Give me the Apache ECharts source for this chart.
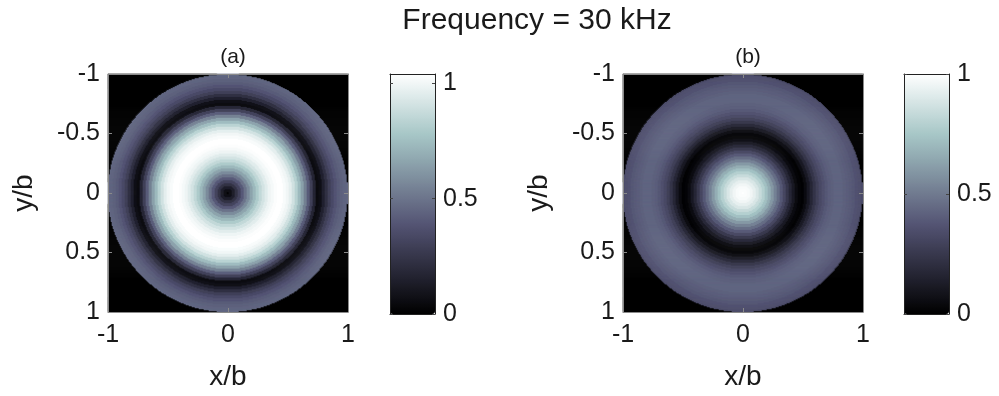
<!DOCTYPE html>
<html>
<head>
<meta charset="utf-8">
<script src="https://cdn.jsdelivr.net/npm/echarts@6/dist/echarts.min.js"></script>
<style>
html,body{margin:0;padding:0;background:#fff;}
#chart{width:999px;height:396px;}
</style>
</head>
<body>
<div id="chart"></div>
<script>
// ---- data ----
const mainTitle = 'Frequency = 30 kHz';
const panelTitles = ['(a)', '(b)'];
const xTickValues = [-1, 0, 1];
const yTickValues = [-1, -0.5, 0, 0.5, 1];
const colorbarTicks = [0, 0.5, 1];
const colorbarMax = [1.04, 1.0];
// radial samples r = 0, 0.025, ..., 1 (r/b)
const radiusStep = 0.025;
const profileA = [0.02, 0.08, 0.15, 0.24, 0.32, 0.41, 0.50, 0.58, 0.66, 0.73,
  0.80, 0.86, 0.91, 0.95, 0.99, 1.01, 1.03, 1.04, 1.04, 1.02,
  1.00, 0.96, 0.90, 0.83, 0.74, 0.65, 0.54, 0.42, 0.30, 0.18,
  0.06, 0.08, 0.16, 0.23, 0.30, 0.35, 0.39, 0.42, 0.44, 0.45, 0.46];
const profileB = [1.00, 0.99, 0.98, 0.96, 0.93, 0.89, 0.84, 0.79, 0.73, 0.67,
  0.60, 0.53, 0.46, 0.39, 0.32, 0.25, 0.18, 0.12, 0.06, 0.03,
  0.02, 0.06, 0.12, 0.18, 0.24, 0.29, 0.33, 0.36, 0.39, 0.41,
  0.42, 0.43, 0.43, 0.43, 0.42, 0.41, 0.40, 0.39, 0.37, 0.36, 0.34];
// MATLAB "bone" colormap stops (evenly spaced)
const boneColors = ['#000000', '#1c1c27', '#38384d', '#545474', '#707a8f',
  '#8ba1ab', '#a7c7c7', '#d3e3e3', '#ffffff'];

// ---- build grid cells ----
const N = 240;
const cellCats = [];
for (let i = 0; i < N; i++) cellCats.push(String(i));
function buildField(profile) {
  const out = [];
  for (let i = 0; i < N; i++) {
    const x = -1 + (i + 0.5) * 2 / N;
    for (let j = 0; j < N; j++) {
      const y = -1 + (j + 0.5) * 2 / N;
      const r = Math.sqrt(x * x + y * y);
      const v = r > 1 ? 0 : profile[Math.round(r / radiusStep)];
      out.push([i, j, v]);
    }
  }
  return out;
}
const fields = [buildField(profileA), buildField(profileB)];

// ---- layout ----
const FONT = 'Liberation Sans, Arial, sans-serif';
const TXT = '#1a1a1a';
const plotLeft = [108, 623];
const cbLeft = [390, 904];
const TOP = 74, SIZE = 240, CBW = 45;

const grids = [], xAxes = [], yAxes = [], series = [], visualMaps = [], titles = [];
titles.push({text: mainTitle, left: 532, top: 1, textAlign: 'center',
  textStyle: {fontFamily: FONT, fontSize: 30, fontWeight: 'normal', color: TXT}});

const frameGray = '#8a8a8a';
for (let p = 0; p < 2; p++) {
  const g = grids.length;
  grids.push({left: plotLeft[p], top: TOP, width: SIZE, height: SIZE});
  const xi = xAxes.length, yi = yAxes.length;
  xAxes.push({gridIndex: g, type: 'value', min: -1, max: 1, interval: 1, position: 'bottom', z: 10,
    axisLine: {show: true, onZero: false, lineStyle: {color: frameGray, width: 1}},
    axisTick: {show: true, inside: true, length: 4, lineStyle: {color: frameGray}},
    axisLabel: {show: true, margin: 11, fontFamily: FONT, fontSize: 25, color: TXT},
    splitLine: {show: false},
    name: 'x/b', nameLocation: 'middle', nameGap: 51,
    nameTextStyle: {fontFamily: FONT, fontSize: 28, color: TXT}});
  xAxes.push({gridIndex: g, type: 'category', data: cellCats, show: false});
  xAxes.push({gridIndex: g, type: 'value', min: -1, max: 1, interval: 1, position: 'top', z: 10,
    axisLine: {show: true, onZero: false, lineStyle: {color: frameGray, width: 1}},
    axisTick: {show: true, inside: true, length: 4, lineStyle: {color: frameGray}},
    axisLabel: {show: false}, splitLine: {show: false}});
  yAxes.push({gridIndex: g, type: 'value', min: -1, max: 1, interval: 0.5, inverse: true, position: 'left', z: 10,
    axisLine: {show: true, onZero: false, lineStyle: {color: frameGray, width: 1}},
    axisTick: {show: true, inside: true, length: 4, lineStyle: {color: frameGray}},
    axisLabel: {show: true, margin: 8, fontFamily: FONT, fontSize: 25, color: TXT},
    splitLine: {show: false},
    name: 'y/b', nameLocation: 'middle', nameGap: 70, nameRotate: 90,
    nameTextStyle: {fontFamily: FONT, fontSize: 28, color: TXT}});
  yAxes.push({gridIndex: g, type: 'category', data: cellCats, show: false});
  yAxes.push({gridIndex: g, type: 'value', min: -1, max: 1, interval: 0.5, inverse: true, position: 'right', z: 10,
    axisLine: {show: true, onZero: false, lineStyle: {color: frameGray, width: 1}},
    axisTick: {show: true, inside: true, length: 4, lineStyle: {color: frameGray}},
    axisLabel: {show: false}, splitLine: {show: false}});
  series.push({type: 'heatmap', xAxisIndex: xi + 1, yAxisIndex: yi + 1, data: fields[p],
    progressive: 0, animation: false, emphasis: {disabled: true}, itemStyle: {borderWidth: 0}});
  visualMaps.push({type: 'continuous', seriesIndex: p, min: 0, max: colorbarMax[p],
    orient: 'vertical', left: cbLeft[p], top: TOP, itemWidth: CBW, itemHeight: SIZE,
    padding: 0, calculable: false, realtime: false, hoverLink: false, text: null, showLabel: false,
    inRange: {color: boneColors}, textStyle: {color: 'transparent'}});
  titles.push({text: panelTitles[p], left: plotLeft[p] + SIZE / 2, top: 42, textAlign: 'center',
    textStyle: {fontFamily: FONT, fontSize: 21, fontWeight: 'normal', color: TXT}});

  // colorbar frame and ticks
  const cg = grids.length;
  grids.push({left: cbLeft[p], top: TOP, width: CBW, height: SIZE, z: 10});
  const cbLine = {show: true, onZero: false, lineStyle: {color: '#222', width: 1}};
  xAxes.push({gridIndex: cg, type: 'value', min: 0, max: 1, position: 'bottom', z: 10,
    axisLine: cbLine, axisTick: {show: false}, axisLabel: {show: false}, splitLine: {show: false}});
  xAxes.push({gridIndex: cg, type: 'value', min: 0, max: 1, position: 'top', z: 10,
    axisLine: cbLine, axisTick: {show: false}, axisLabel: {show: false}, splitLine: {show: false}});
  yAxes.push({gridIndex: cg, type: 'value', min: 0, max: colorbarMax[p], interval: 0.5, position: 'right', z: 10,
    axisLine: cbLine,
    axisTick: {show: true, inside: true, length: 3, lineStyle: {color: '#444'}, customValues: colorbarTicks},
    axisLabel: {show: true, margin: 8, fontFamily: FONT, fontSize: 25, color: TXT, customValues: colorbarTicks},
    splitLine: {show: false}});
  yAxes.push({gridIndex: cg, type: 'value', min: 0, max: colorbarMax[p], interval: 0.5, position: 'left', z: 10,
    axisLine: cbLine,
    axisTick: {show: true, inside: true, length: 3, lineStyle: {color: '#444'}, customValues: colorbarTicks},
    axisLabel: {show: false}, splitLine: {show: false}});
}

const chart = echarts.init(document.getElementById('chart'), null, {renderer: 'canvas'});
chart.setOption({
  animation: false,
  backgroundColor: '#ffffff',
  title: titles,
  grid: grids,
  xAxis: xAxes,
  yAxis: yAxes,
  visualMap: visualMaps,
  series: series
});
</script>
</body>
</html>
